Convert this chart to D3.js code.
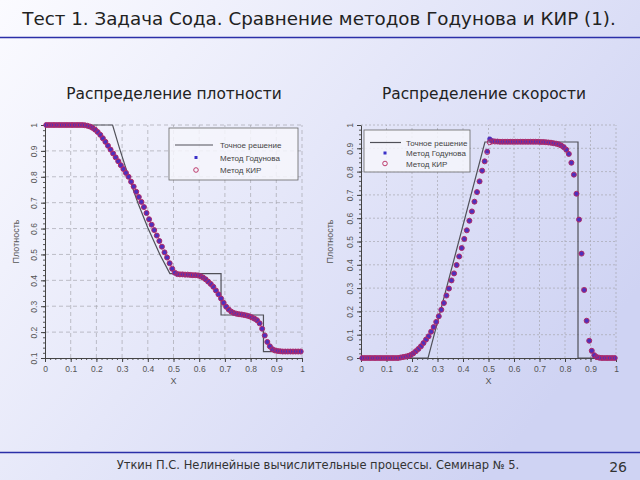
<!DOCTYPE html>
<html>
<head>
<meta charset="utf-8">
<script src="https://cdn.jsdelivr.net/npm/d3@7"></script>
<style>
  body { margin: 0; }
  svg { display: block; }
</style>
</head>
<body>
<svg id="chart" width="640" height="480"></svg>
<script>
// cell centres, 100 cells
var xCells = [0.005,0.015,0.025,0.035,0.045,0.055,0.065,0.075,0.085,0.095,
  0.105,0.115,0.125,0.135,0.145,0.155,0.165,0.175,0.185,0.195,
  0.205,0.215,0.225,0.235,0.245,0.255,0.265,0.275,0.285,0.295,
  0.305,0.315,0.325,0.335,0.345,0.355,0.365,0.375,0.385,0.395,
  0.405,0.415,0.425,0.435,0.445,0.455,0.465,0.475,0.485,0.495,
  0.505,0.515,0.525,0.535,0.545,0.555,0.565,0.575,0.585,0.595,
  0.605,0.615,0.625,0.635,0.645,0.655,0.665,0.675,0.685,0.695,
  0.705,0.715,0.725,0.735,0.745,0.755,0.765,0.775,0.785,0.795,
  0.805,0.815,0.825,0.835,0.845,0.855,0.865,0.875,0.885,0.895,
  0.905,0.915,0.925,0.935,0.945,0.955,0.965,0.975,0.985,0.995];

// density
var godRho = [1,1,1,1,1,1,1,1,1,1,
  1,1,1,1,1,0.999,0.997,0.994,0.989,0.982,
  0.973,0.962,0.949,0.935,0.920,0.905,0.890,0.875,0.860,0.845,
  0.830,0.815,0.800,0.781,0.762,0.742,0.722,0.703,0.683,0.660,
  0.636,0.615,0.594,0.573,0.552,0.530,0.508,0.488,0.466,0.444,
  0.428,0.424,0.423,0.423,0.422,0.422,0.421,0.420,0.420,0.419,
  0.416,0.411,0.404,0.395,0.386,0.375,0.361,0.346,0.330,0.313,
  0.298,0.287,0.279,0.274,0.271,0.269,0.268,0.266,0.264,0.261,
  0.257,0.252,0.246,0.234,0.213,0.187,0.162,0.145,0.134,0.129,
  0.127,0.126,0.125,0.125,0.125,0.125,0.125,0.125,0.125,0.125];
var kirRho = [1,1,1,1,1,1,1,1,1,1,
  1,1,1,1,1,0.999,0.997,0.994,0.989,0.982,
  0.973,0.962,0.949,0.935,0.920,0.905,0.890,0.875,0.860,0.845,
  0.830,0.815,0.800,0.781,0.762,0.742,0.722,0.703,0.683,0.660,
  0.636,0.615,0.594,0.573,0.552,0.530,0.508,0.488,0.466,0.445,
  0.430,0.424,0.423,0.423,0.422,0.422,0.421,0.420,0.420,0.419,
  0.416,0.411,0.404,0.395,0.386,0.375,0.361,0.346,0.330,0.313,
  0.298,0.287,0.279,0.274,0.271,0.269,0.268,0.266,0.264,0.261,
  0.257,0.252,0.246,0.234,0.213,0.187,0.162,0.145,0.134,0.129,
  0.127,0.126,0.125,0.125,0.125,0.125,0.125,0.125,0.125,0.125];
var exactRhoX = [0, 0.263, 0.29, 0.325, 0.362, 0.40, 0.447, 0.486, 0.685, 0.685, 0.850, 0.850, 1];
var exactRhoY = [1, 1, 0.910, 0.801, 0.698, 0.603, 0.500, 0.426, 0.426, 0.266, 0.266, 0.125, 0.125];

// velocity
var godVel = [0,0,0,0,0,0,0,0,0,0,
  0,0,0,0,0,0.002,0.004,0.006,0.009,0.013,
  0.020,0.029,0.039,0.050,0.064,0.079,0.093,0.113,0.133,0.155,
  0.179,0.207,0.236,0.268,0.298,0.333,0.363,0.399,0.436,0.472,
  0.511,0.548,0.589,0.629,0.671,0.712,0.758,0.804,0.844,0.887,
  0.940,0.932,0.930,0.929,0.928,0.928,0.928,0.928,0.928,0.928,
  0.928,0.928,0.928,0.928,0.928,0.928,0.928,0.928,0.928,0.928,
  0.927,0.927,0.926,0.925,0.924,0.922,0.920,0.917,0.912,0.905,
  0.894,0.876,0.838,0.787,0.705,0.594,0.448,0.292,0.160,0.074,
  0.031,0.012,0.004,0.001,0,0,0,0,0,0];
var kirVel = [0,0,0,0,0,0,0,0,0,0,
  0,0,0,0,0,0.002,0.004,0.006,0.009,0.013,
  0.020,0.029,0.039,0.050,0.064,0.079,0.093,0.113,0.133,0.155,
  0.179,0.207,0.236,0.268,0.298,0.333,0.363,0.399,0.436,0.472,
  0.511,0.548,0.589,0.629,0.671,0.712,0.758,0.804,0.844,0.884,
  0.926,0.930,0.929,0.929,0.928,0.928,0.928,0.928,0.928,0.928,
  0.928,0.928,0.928,0.928,0.928,0.928,0.928,0.928,0.928,0.928,
  0.927,0.927,0.926,0.925,0.924,0.922,0.920,0.917,0.912,0.905,
  0.894,0.876,0.838,0.787,0.705,0.594,0.448,0.292,0.160,0.074,
  0.031,0.012,0.004,0.001,0,0,0,0,0,0];
var exactVelX = [0, 0.263, 0.486, 0.851, 0.851, 1];
var exactVelY = [0, 0, 0.927, 0.927, 0, 0];

var xTicks = [0,0.1,0.2,0.3,0.4,0.5,0.6,0.7,0.8,0.9,1];
var rhoTicks = [0.1,0.2,0.3,0.4,0.5,0.6,0.7,0.8,0.9,1];
var velTicks = [0,0.1,0.2,0.3,0.4,0.5,0.6,0.7,0.8,0.9,1];
var legendNames = ["Точное решение", "Метод Годунова", "Метод КИР"];

var svg = d3.select("#chart");

// background
var defs = svg.append("defs");
var grad = defs.append("linearGradient").attr("id", "bg")
    .attr("x1", "0").attr("y1", "0").attr("x2", "1").attr("y2", "0.6");
grad.append("stop").attr("offset", "0").attr("stop-color", "#fbfbff");
grad.append("stop").attr("offset", "1").attr("stop-color", "#cfd3f3");
svg.append("rect").attr("width", 640).attr("height", 480).attr("fill", "url(#bg)");

svg.append("text").attr("x", 319).attr("y", 25)
    .attr("text-anchor", "middle")
    .style("font-family", "DejaVu Sans").style("font-size", "18.3px").attr("fill", "#222")
    .text("Тест 1. Задача Сода. Сравнение методов Годунова и КИР (1).");
svg.append("line").attr("x1", 0).attr("x2", 640).attr("y1", 37.5).attr("y2", 37.5)
    .attr("stroke", "#2b2fa8").attr("stroke-width", 1.6);

svg.append("line").attr("x1", 0).attr("x2", 640).attr("y1", 452.5).attr("y2", 452.5)
    .attr("stroke", "#2b2fa8").attr("stroke-width", 1.6);
svg.append("text").attr("x", 318).attr("y", 469)
    .attr("text-anchor", "middle")
    .style("font-family", "DejaVu Sans").style("font-size", "11.5px").attr("fill", "#333")
    .text("Уткин П.С. Нелинейные вычислительные процессы. Семинар № 5.");
svg.append("text").attr("x", 627).attr("y", 472)
    .attr("text-anchor", "end")
    .style("font-family", "DejaVu Sans").style("font-size", "14px").attr("fill", "#333")
    .text("26");

function drawPanel(cfg) {
    var x = d3.scaleLinear().domain([0, 1]).range([cfg.left, cfg.right]);
    var y = d3.scaleLinear().domain(cfg.yDomain).range([cfg.bottom, cfg.top]);
    var g = svg.append("g");

    svg.append("text").attr("x", cfg.titleX).attr("y", 99)
        .attr("text-anchor", "middle")
        .style("font-family", "DejaVu Sans").style("font-size", "15.4px").attr("fill", "#222")
        .text(cfg.title);

    // grid
    g.selectAll(".gx").data(xTicks.slice(1)).enter().append("line")
        .attr("x1", function(d) { return x(d); }).attr("x2", function(d) { return x(d); })
        .attr("y1", cfg.bottom).attr("y2", cfg.top)
        .attr("stroke", "#a8a8b0").attr("stroke-width", 0.7).attr("stroke-dasharray", cfg.dash);
    g.selectAll(".gy").data(cfg.yTicks.slice(1)).enter().append("line")
        .attr("y1", function(d) { return y(d); }).attr("y2", function(d) { return y(d); })
        .attr("x1", cfg.left).attr("x2", cfg.right)
        .attr("stroke", "#a8a8b0").attr("stroke-width", 0.7).attr("stroke-dasharray", cfg.dash);

    // minor ticks
    g.append("g").attr("transform", "translate(0," + cfg.bottom + ")")
        .call(d3.axisBottom(x).ticks(50).tickSize(2).tickFormat(""))
        .call(function(a) { a.select(".domain").remove(); a.selectAll("line").attr("stroke", "#555"); });
    g.append("g").attr("transform", "translate(" + cfg.left + ",0)")
        .call(d3.axisLeft(y).ticks(cfg.minorCount).tickSize(2).tickFormat(""))
        .call(function(a) { a.select(".domain").remove(); a.selectAll("line").attr("stroke", "#555"); });

    var xa = g.append("g").attr("transform", "translate(0," + cfg.bottom + ")")
        .call(d3.axisBottom(x).tickValues(xTicks).tickSize(4).tickSizeOuter(0).tickFormat(d3.format("")));
    var ya = g.append("g").attr("transform", "translate(" + cfg.left + ",0)")
        .call(d3.axisLeft(y).tickValues(cfg.yTicks).tickSize(4).tickSizeOuter(0).tickFormat(d3.format("")));
    [xa, ya].forEach(function(a) {
        a.select(".domain").attr("stroke", "#444").attr("stroke-width", 1);
        a.selectAll("line").attr("stroke", "#444");
        a.selectAll("text").style("font-family", "Liberation Sans").style("font-size", "8.5px").attr("fill", "#555");
    });
    xa.selectAll("text").attr("y", 8);
    ya.selectAll("text").attr("transform", "rotate(-90)")
        .attr("x", 0).attr("y", -8).attr("dy", 0).attr("text-anchor", "middle");

    g.append("text").attr("x", (cfg.left + cfg.right) / 2).attr("y", 384)
        .attr("text-anchor", "middle")
        .style("font-family", "Liberation Sans").style("font-size", "9px").attr("fill", "#555")
        .text("X");
    g.append("text").attr("transform", "translate(" + cfg.yLabelX + "," + ((cfg.top + cfg.bottom) / 2) + ") rotate(-90)")
        .attr("text-anchor", "middle")
        .style("font-family", "Liberation Sans").style("font-size", "9px").attr("fill", "#555")
        .text("Плотность");

    // exact solution
    var line = d3.line().x(function(d) { return x(d[0]); }).y(function(d) { return y(d[1]); });
    g.append("path").datum(d3.zip(cfg.exX, cfg.exY)).attr("d", line)
        .attr("fill", "none").attr("stroke", "#505058").attr("stroke-width", 1.2);

    // Godunov
    g.selectAll(".god").data(d3.zip(xCells, cfg.god)).enter().append("circle")
        .attr("cx", function(d) { return x(d[0]); }).attr("cy", function(d) { return y(d[1]); })
        .attr("r", 2.5).attr("fill", "#4f30bc");
    // KIR
    g.selectAll(".kir").data(d3.zip(xCells, cfg.kir)).enter().append("circle")
        .attr("cx", function(d) { return x(d[0]); }).attr("cy", function(d) { return y(d[1]); })
        .attr("r", 2.5).attr("fill", "none").attr("stroke", "#b02a68").attr("stroke-width", 1);

    // legend
    var L = cfg.legend;
    var lg = g.append("g");
    lg.append("rect").attr("x", L.x).attr("y", L.y).attr("width", L.w).attr("height", L.h)
        .attr("fill", "#f6f6fc").attr("fill-opacity", 0.85).attr("stroke", "#666").attr("stroke-width", 0.8);
    lg.append("line").attr("x1", L.lx1).attr("x2", L.lx2).attr("y1", L.rows[0]).attr("y2", L.rows[0])
        .attr("stroke", "#505058").attr("stroke-width", 1.2);
    lg.append("rect").attr("x", L.mx - 1.5).attr("y", L.rows[1] - 1.5).attr("width", 3).attr("height", 3)
        .attr("fill", "#3a30c8");
    lg.append("circle").attr("cx", L.mx).attr("cy", L.rows[2]).attr("r", 2.3)
        .attr("fill", "none").attr("stroke", "#b8285e").attr("stroke-width", 0.9);
    lg.selectAll(".lt").data(legendNames).enter().append("text")
        .attr("x", L.tx).attr("y", function(d, i) { return L.rows[i] + 3; })
        .style("font-family", "Liberation Sans").style("font-size", "8px").attr("fill", "#444")
        .text(function(d) { return d; });
}

drawPanel({
    left: 45, right: 302, top: 125, bottom: 358,
    yDomain: [0.1, 1], yTicks: rhoTicks, minorCount: 45, dash: "4,3",
    title: "Распределение плотности", titleX: 174, yLabelX: 19,
    exX: exactRhoX, exY: exactRhoY, god: godRho, kir: kirRho,
    legend: { x: 169, y: 128, w: 129, h: 52, lx1: 175, lx2: 213, mx: 196, tx: 220, rows: [145, 157.5, 170] }
});
drawPanel({
    left: 361, right: 616, top: 125, bottom: 358,
    yDomain: [0, 1], yTicks: velTicks, minorCount: 50, dash: "2,2",
    title: "Распределение скорости", titleX: 484, yLabelX: 333,
    exX: exactVelX, exY: exactVelY, god: godVel, kir: kirVel,
    legend: { x: 364, y: 130, w: 106, h: 42, lx1: 370, lx2: 401, mx: 385, tx: 406, rows: [142.5, 153, 163.5] }
});
</script>
</body>
</html>
